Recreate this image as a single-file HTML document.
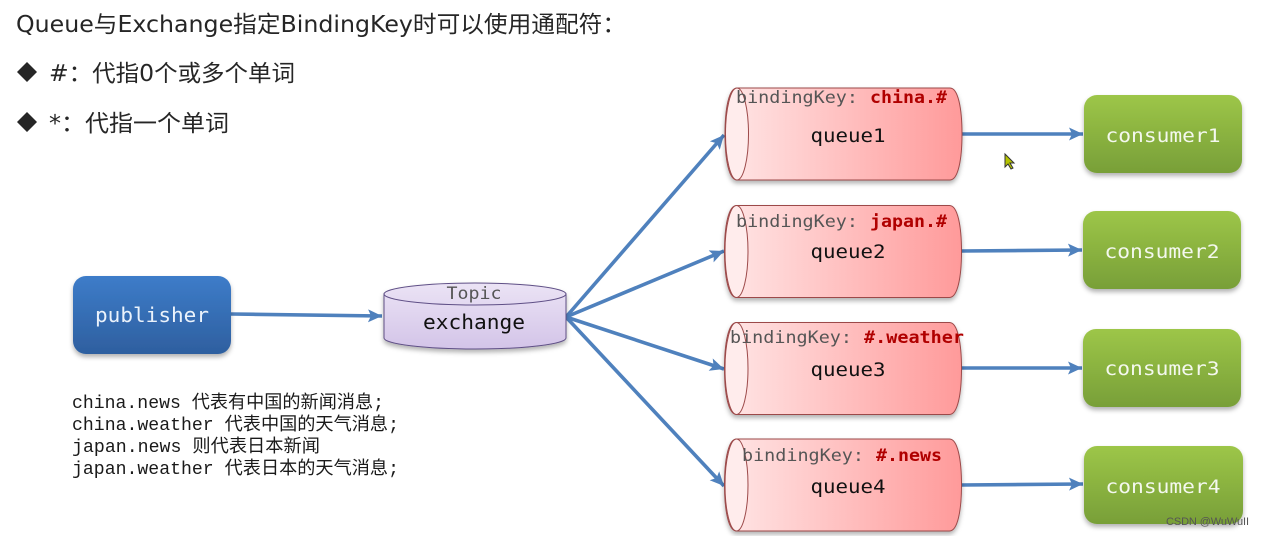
<!DOCTYPE html>
<html><head><meta charset="utf-8"><style>
html,body{margin:0;padding:0;background:#fff;width:1264px;height:536px;overflow:hidden}
svg{display:block;filter:blur(.35px)}
.t{font-family:"DejaVu Sans","Noto Sans CJK SC",sans-serif;fill:#262626}
.m{font-family:"DejaVu Sans Mono","Liberation Mono","Noto Sans CJK SC",monospace}
.c{font-family:"Liberation Mono","Noto Sans CJK SC",monospace;fill:#1a1a1a;font-size:18px}
.k{fill:#555}
.r{fill:#b00000;font-weight:bold}
.w{fill:#f4f8ee;font-size:19px}
.q{fill:#111;font-size:19px}
</style></head><body>
<svg width="1264" height="536" viewBox="0 0 1264 536" xmlns="http://www.w3.org/2000/svg">
<defs>
<linearGradient id="rd" x1="0" x2="1" y1="0" y2="0"><stop offset="0" stop-color="#ffe6e6"/><stop offset="1" stop-color="#ff9a9a"/></linearGradient>
<linearGradient id="bl" x1="0" x2="0" y1="0" y2="1"><stop offset="0" stop-color="#3d7cc9"/><stop offset="1" stop-color="#2e5f9f"/></linearGradient>
<linearGradient id="gr" x1="0" x2="0" y1="0" y2="1"><stop offset="0" stop-color="#9dc648"/><stop offset="1" stop-color="#789f38"/></linearGradient>
<linearGradient id="pu" x1="0" x2="0" y1="0" y2="1"><stop offset="0" stop-color="#ebe3f5"/><stop offset="1" stop-color="#d3c4e8"/></linearGradient>
<filter id="s" x="-10%" y="-10%" width="120%" height="125%"><feDropShadow dx="0" dy="3" stdDeviation="2.5" flood-color="#000" flood-opacity=".3"/></filter>
<marker id="a" markerUnits="userSpaceOnUse" markerWidth="16" markerHeight="14" refX="14" refY="6.5" orient="auto"><path d="M0 0L14 6.5L0 13L3 6.5Z" fill="#4f81bd"/></marker>
<g id="cyl"><path d="M12 0H225C233 0 237 20 237 46C237 72 233 92 225 92H12C4 92 0 72 0 46C0 20 4 0 12 0Z" fill="url(#rd)" stroke="#9c4a4a" stroke-width="1"/><ellipse cx="12" cy="46" rx="11.5" ry="46" fill="#ffecec" stroke="#9c4a4a" stroke-width="1"/></g>
</defs>

<text class="t" x="16" y="32" font-size="23" textLength="610" lengthAdjust="spacingAndGlyphs">Queue与Exchange指定BindingKey时可以使用通配符：</text>
<path d="M27 62L37 72L27 82L17 72Z M27 112L37 122L27 132L17 122Z" fill="#262626"/>
<text class="t" x="49" y="81" font-size="23" textLength="246" lengthAdjust="spacingAndGlyphs">#：代指0个或多个单词</text>
<text class="t" x="49" y="131" font-size="23" textLength="180" lengthAdjust="spacingAndGlyphs">*：代指一个单词</text>

<g stroke="#4f81bd" stroke-width="3.6" fill="none">
<path d="M231 314L382 316" marker-end="url(#a)"/>
<path d="M566 317L724 135" marker-end="url(#a)"/>
<path d="M566 317L724 251" marker-end="url(#a)"/>
<path d="M566 317L724 369" marker-end="url(#a)"/>
<path d="M566 317L724 486" marker-end="url(#a)"/>
<path d="M962 134L1083 134" marker-end="url(#a)"/>
<path d="M961 251L1082 250" marker-end="url(#a)"/>
<path d="M961 368L1082 368" marker-end="url(#a)"/>
<path d="M961 485L1083 484" marker-end="url(#a)"/>
</g>

<rect x="73" y="276" width="158" height="78" rx="13" fill="url(#bl)" filter="url(#s)"/>
<text class="m" x="152" y="322" font-size="20" fill="#eaf2fb" text-anchor="middle" textLength="114" lengthAdjust="spacingAndGlyphs">publisher</text>

<g filter="url(#s)">
<path d="M384 294C384 288 425 283 475 283C525 283 566 288 566 294V338C566 344 525 349 475 349C425 349 384 344 384 338Z" fill="url(#pu)" stroke="#5f4f86" stroke-width="1"/>
</g>
<path d="M384 294C384 300 425 305 475 305C525 305 566 300 566 294" fill="none" stroke="#5f4f86" stroke-width="1"/>
<text class="m k" x="474" y="299" font-size="17" text-anchor="middle" textLength="55" lengthAdjust="spacingAndGlyphs">Topic</text>
<text class="m" x="474" y="329" font-size="20" fill="#111" text-anchor="middle" textLength="102" lengthAdjust="spacingAndGlyphs">exchange</text>

<g filter="url(#s)"><use href="#cyl" x="725" y="88"/></g>
<g filter="url(#s)"><use href="#cyl" x="724.5" y="205.5"/></g>
<g filter="url(#s)"><use href="#cyl" x="724.5" y="322.5"/></g>
<g filter="url(#s)"><use href="#cyl" x="724.5" y="439"/></g>

<g class="m" font-size="17">
<text class="k" x="736" y="103" textLength="122" lengthAdjust="spacingAndGlyphs">bindingKey:</text><text class="r" x="870" y="103" textLength="77" lengthAdjust="spacingAndGlyphs">china.#</text>
<text class="k" x="736" y="227" textLength="122" lengthAdjust="spacingAndGlyphs">bindingKey:</text><text class="r" x="870" y="227" textLength="77" lengthAdjust="spacingAndGlyphs">japan.#</text>
<text class="k" x="730" y="343" textLength="122" lengthAdjust="spacingAndGlyphs">bindingKey:</text><text class="r" x="864" y="343" textLength="100" lengthAdjust="spacingAndGlyphs">#.weather</text>
<text class="k" x="742" y="461" textLength="122" lengthAdjust="spacingAndGlyphs">bindingKey:</text><text class="r" x="876" y="461" textLength="66" lengthAdjust="spacingAndGlyphs">#.news</text>
</g>
<g class="m q" text-anchor="middle">
<text x="848" y="142" textLength="75" lengthAdjust="spacingAndGlyphs">queue1</text>
<text x="848" y="258" textLength="75" lengthAdjust="spacingAndGlyphs">queue2</text>
<text x="848" y="376" textLength="75" lengthAdjust="spacingAndGlyphs">queue3</text>
<text x="848" y="493" textLength="75" lengthAdjust="spacingAndGlyphs">queue4</text>
</g>

<g fill="url(#gr)" filter="url(#s)">
<rect x="1084" y="95" width="158" height="78" rx="13"/>
<rect x="1083" y="211" width="158" height="78" rx="13"/>
<rect x="1083" y="329" width="158" height="78" rx="13"/>
<rect x="1084" y="446" width="159" height="78" rx="13"/>
</g>
<g class="m w" text-anchor="middle">
<text x="1163" y="142" textLength="115" lengthAdjust="spacingAndGlyphs">consumer1</text>
<text x="1162" y="258" textLength="115" lengthAdjust="spacingAndGlyphs">consumer2</text>
<text x="1162" y="375" textLength="115" lengthAdjust="spacingAndGlyphs">consumer3</text>
<text x="1163" y="493" textLength="115" lengthAdjust="spacingAndGlyphs">consumer4</text>
</g>

<text class="c" x="72" y="408" textLength="312" lengthAdjust="spacingAndGlyphs">china.news 代表有中国的新闻消息;</text>
<text class="c" x="72" y="430" textLength="327" lengthAdjust="spacingAndGlyphs">china.weather 代表中国的天气消息;</text>
<text class="c" x="72" y="452" textLength="248" lengthAdjust="spacingAndGlyphs">japan.news 则代表日本新闻</text>
<text class="c" x="72" y="474" textLength="327" lengthAdjust="spacingAndGlyphs">japan.weather 代表日本的天气消息;</text>

<path d="M1005 154L1005 167L1008 164L1011 169L1013 168L1010 163L1014 163Z" fill="#b5c400" stroke="#333" stroke-width="1"/>
<text x="1166" y="525" font-family="Liberation Sans,sans-serif" font-size="11" fill="#555" textLength="83">CSDN @WuWuII</text>
</svg>
</body></html>
